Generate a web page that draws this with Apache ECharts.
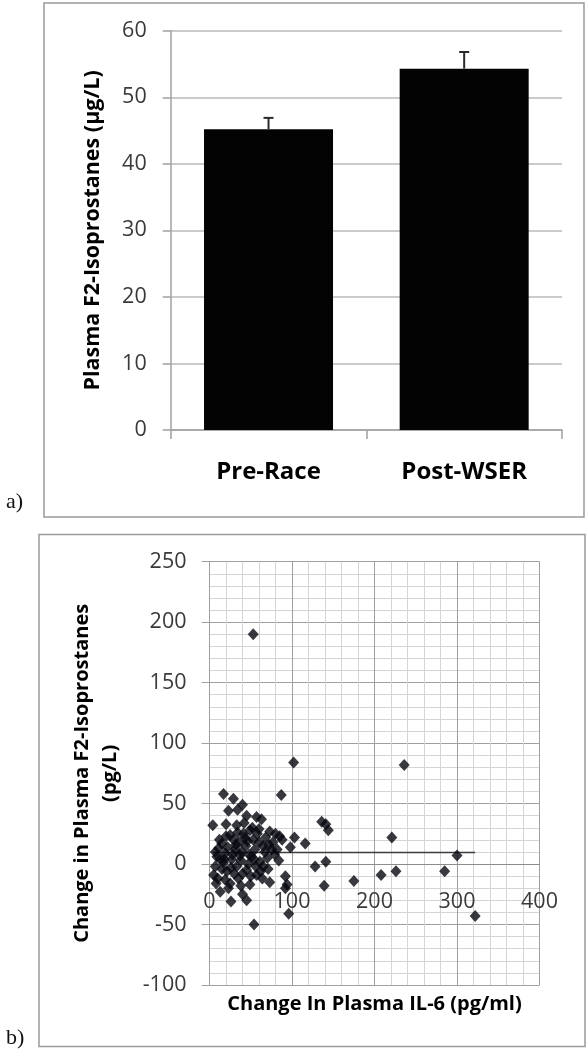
<!DOCTYPE html>
<html>
<head>
<meta charset="utf-8">
<script src="https://cdn.jsdelivr.net/npm/echarts@6/dist/echarts.min.js"></script>
<style>
  html, body { margin: 0; padding: 0; background: #ffffff; }
  #chart { width: 587px; height: 1056px; }
</style>
</head>
<body>
<div id="chart"></div>
<script>
// Panel a) plasma F2-isoprostanes before and after the race (mean with SE)
const categories = ['Pre-Race', 'Post-WSER'];
const barMeans = [45.2, 54.3];
const barErrors = [1.7, 2.5];
const barTicks = [0, 10, 20, 30, 40, 50, 60];

// Panel b) change in F2-isoprostanes vs change in IL-6, one point per runner
const points = [
  [53, 190], [102, 84], [236, 82], [87, 57], [17, 58], [29, 54], [40, 49],
  [23, 44], [34, 45], [4, 32], [20, 33], [33, 32], [45, 40], [57, 39],
  [63, 37], [136, 35], [141, 33], [144, 28], [103, 22], [116, 17], [98, 14],
  [221, 22], [300, 7], [285, -6], [226, -6], [208, -9], [175, -14], [139, -18],
  [141, 2], [128, -2], [322, -43], [54, -50], [96, -41], [92, -10], [92, -20],
  [94, -17], [73, -15], [49, -17], [45, -30], [26, -31], [13, -23], [5, -9],
  [40, -25],
  [49, 28], [41, 25], [29, 20], [15, 17], [73, 27], [85, 23], [79, 8],
  [65, 15], [53, 20], [7, 10], [19, 9], [13, 4], [27, 4], [39, 10], [51, 6],
  [61, 2], [71, -4], [7, -2], [21, -6], [33, -2], [45, -5], [57, -9],
  [35, -12], [25, -16], [19, -13], [62, -6], [67, 10], [58, 25], [68, 22],
  [77, 18], [82, 12], [88, 20], [11, 13], [22, 14], [31, 12], [44, 15],
  [55, 12], [60, 18], [38, 3], [47, 0], [17, 1], [9, 6], [25, 24], [36, 18],
  [43, 22], [52, 30], [48, 8], [30, -8], [15, -4], [40, -8], [10, -12],
  [65, -2], [70, 5], [75, 12], [80, 25], [56, -2], [28, 8], [34, 26],
  [42, 34], [60, 29], [20, 23], [12, 20], [8, -16], [23, -20], [50, -10],
  [38, -18], [64, -12], [54, 4], [46, 19], [32, 16], [18, 4], [26, -3],
  [37, 7], [72, 16], [84, 3]
];
// Linear trend line drawn across the IL-6 range
const trendX = [4, 322];
const trendY = [9.5, 9.5];

// Axis ranges of the scatter panel
const scatterXRange = [0, 400];
const scatterYRange = [-100, 250];

const FONT = '"Open Sans", "Liberation Sans", sans-serif';
const GRID_MAJOR = '#a0a0a0';
const GRID_MINOR = '#d4d4d4';
const AXIS_GREY = '#a0a0a0';
const LABEL_GREY = '#3a3a3a';

// Scatter plot area
const scatterGrid = { left: 209.5, top: 561.7, width: 330, height: 423.3 };
// The horizontal axis (line, labels and title) sits at y = 0, as in a spreadsheet chart
const xAxisLift = -scatterGrid.height * (0 - scatterYRange[0]) / (scatterYRange[1] - scatterYRange[0]);

const chart = echarts.init(document.getElementById('chart'), null, { renderer: 'canvas' });

const option = {
  backgroundColor: '#ffffff',
  animation: false,
  textStyle: { fontFamily: FONT },
  graphic: [
    { type: 'rect', shape: { x: 44, y: 3, width: 540, height: 514 },
      style: { fill: null, stroke: '#9a9a9a', lineWidth: 1.5 }, z: 0 },
    { type: 'rect', shape: { x: 39, y: 534.5, width: 546, height: 512 },
      style: { fill: null, stroke: '#9a9a9a', lineWidth: 1.5 }, z: 0 },
    { type: 'text', left: 6, top: 491,
      style: { text: 'a)', font: '22px "Liberation Serif", serif', fill: '#111' } },
    { type: 'text', left: 6, top: 1027,
      style: { text: 'b)', font: '22px "Liberation Serif", serif', fill: '#111' } }
  ],
  grid: [
    { left: 170.7, top: 30.7, width: 391.3, height: 399.3, outerBoundsMode: 'none' },
    Object.assign({ outerBoundsMode: 'none' }, scatterGrid)
  ],
  xAxis: [
    {
      gridIndex: 0,
      type: 'category',
      data: categories,
      boundaryGap: true,
      axisLine: { lineStyle: { color: AXIS_GREY, width: 1.5 } },
      axisTick: { show: true, length: 9, lineStyle: { color: AXIS_GREY, width: 1.5 } },
      axisLabel: { fontFamily: FONT, fontSize: 24, fontWeight: 'bold', color: '#000', margin: 30 },
      splitLine: { show: false }
    },
    {
      gridIndex: 1,
      type: 'value',
      min: scatterXRange[0], max: scatterXRange[1], interval: 100,
      offset: xAxisLift,
      axisLine: { show: true, onZero: false, lineStyle: { color: '#8c8c8c', width: 1 } },
      axisTick: { show: false },
      minorTick: { show: false, splitNumber: 5 },
      axisLabel: { fontFamily: FONT, fontSize: 21.5, color: LABEL_GREY, margin: 27 },
      splitLine: { show: true, lineStyle: { color: GRID_MAJOR, width: 1 } },
      minorSplitLine: { show: true, lineStyle: { color: GRID_MINOR, width: 1 } },
      name: 'Change In Plasma IL-6 (pg/ml)',
      nameLocation: 'middle',
      nameGap: 130,
      nameTextStyle: { fontFamily: FONT, fontSize: 20, fontWeight: 'bold', color: '#000' }
    }
  ],
  yAxis: [
    {
      gridIndex: 0,
      type: 'value',
      min: barTicks[0], max: barTicks[barTicks.length - 1], interval: 10,
      axisLine: { show: true, lineStyle: { color: AXIS_GREY, width: 1.5 } },
      axisTick: { show: true, length: 8, lineStyle: { color: AXIS_GREY, width: 1.5 } },
      axisLabel: { fontFamily: FONT, fontSize: 21.5, color: LABEL_GREY, margin: 24 },
      splitLine: { show: true, lineStyle: { color: '#bababa', width: 1.5 } },
      name: 'Plasma F2-Isoprostanes (µg/L)',
      nameLocation: 'middle',
      nameGap: 67,
      nameTextStyle: { fontFamily: FONT, fontSize: 21.5, fontWeight: 'bold', color: '#000' }
    },
    {
      gridIndex: 1,
      type: 'value',
      min: scatterYRange[0], max: scatterYRange[1], interval: 50,
      axisLine: { show: true, onZero: false, lineStyle: { color: AXIS_GREY, width: 1 } },
      axisTick: { show: true, length: 8, lineStyle: { color: AXIS_GREY, width: 1 } },
      minorTick: { show: false, splitNumber: 5 },
      axisLabel: { fontFamily: FONT, fontSize: 21.5, color: LABEL_GREY, margin: 23 },
      splitLine: { show: true, lineStyle: { color: GRID_MAJOR, width: 1 } },
      minorSplitLine: { show: true, lineStyle: { color: GRID_MINOR, width: 1 } },
      name: 'Change in Plasma F2-Isoprostanes\n(pg/L)',
      nameLocation: 'middle',
      nameGap: 85,
      nameTextStyle: { fontFamily: FONT, fontSize: 20, fontWeight: 'bold', color: '#000', lineHeight: 28, align: 'center' }
    }
  ],
  series: [
    {
      type: 'bar',
      xAxisIndex: 0, yAxisIndex: 0,
      data: barMeans,
      barWidth: 129,
      itemStyle: { color: '#030303' },
      z: 2
    },
    {
      // upper error bars (I-beam above each bar)
      type: 'custom',
      xAxisIndex: 0, yAxisIndex: 0,
      data: barMeans.map((m, i) => [i, m, m + barErrors[i]]),
      renderItem: function (params, api) {
        const base = api.coord([api.value(0), api.value(1)]);
        const top = api.coord([api.value(0), api.value(2)]);
        const half = 5;
        const style = { stroke: '#2a2a2a', lineWidth: 2 };
        return {
          type: 'group',
          children: [
            { type: 'line', shape: { x1: base[0], y1: base[1], x2: top[0], y2: top[1] }, style: style },
            { type: 'line', shape: { x1: top[0] - half, y1: top[1], x2: top[0] + half, y2: top[1] }, style: style }
          ]
        };
      },
      z: 3
    },
    {
      type: 'line',
      xAxisIndex: 1, yAxisIndex: 1,
      data: trendX.map((x, i) => [x, trendY[i]]),
      symbol: 'none',
      lineStyle: { color: '#3c3c3c', width: 1.5 },
      z: 2
    },
    {
      type: 'scatter',
      xAxisIndex: 1, yAxisIndex: 1,
      data: points,
      symbol: 'diamond',
      symbolSize: [11, 12],
      itemStyle: { color: '#06060f' },
      z: 3
    }
  ]
};

chart.setOption(option);
</script>
</body>
</html>
